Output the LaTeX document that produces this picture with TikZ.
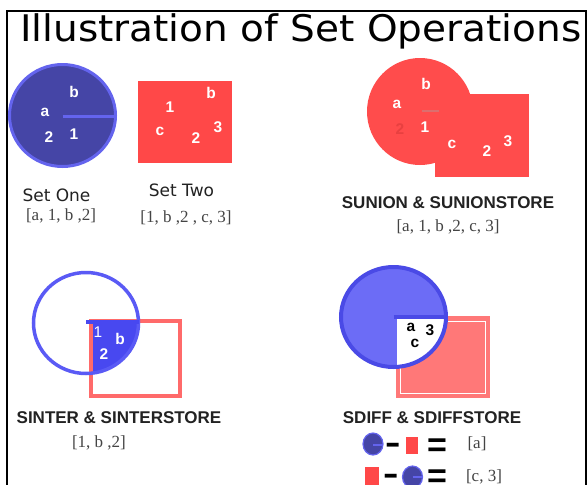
\documentclass[tikz,border=0pt]{standalone}
\usepackage{fontspec}
\usepackage{graphicx}
\setmainfont{Liberation Serif}
\newfontfamily\titlefont{DejaVu Sans}
\newfontfamily\arl{Liberation Sans}
\definecolor{setdark}{HTML}{4545A6}
\definecolor{setrim}{HTML}{6464EE}
\definecolor{setred}{HTML}{FF4848}
\definecolor{unired}{HTML}{FF4C4C}
\definecolor{uniline}{HTML}{DC6E6E}
\definecolor{unifaint}{HTML}{E84040}
\definecolor{intfill}{HTML}{4848F0}
\definecolor{intcirc}{HTML}{5A5AF5}
\definecolor{intrect}{HTML}{FF6A6A}
\definecolor{difcirc}{HTML}{6C6CF6}
\definecolor{difrim}{HTML}{4A4AE6}
\definecolor{difrect}{HTML}{FF7878}
\definecolor{txtdark}{HTML}{222222}
\definecolor{txtgray}{HTML}{444444}
\begin{document}
\begin{tikzpicture}[x=1pt,y=-1pt,
  lbl/.style={text=white,font=\arl\bfseries\fontsize{15.5}{16}\selectfont,inner sep=0},
  dlbl/.style={text=black,font=\arl\bfseries\fontsize{15.5}{16}\selectfont,inner sep=0},
  setcap/.style={font=\titlefont\fontsize{17}{18}\selectfont,text=txtdark,inner sep=0},
  lst/.style={font=\fontsize{17}{18}\selectfont,text=txtgray,inner sep=0},
  opname/.style={font=\arl\bfseries\fontsize{17}{18}\selectfont,text=txtdark,inner sep=0},
  ttl/.style={font=\titlefont\fontsize{39}{44}\selectfont,text=black,inner sep=0,anchor=base west},
  minussym/.style={font=\arl\bfseries\fontsize{24}{26}\selectfont,text=black,inner sep=0,anchor=base},
  eqsym/.style={font=\arl\bfseries\fontsize{34}{36}\selectfont,text=black,inner sep=0,anchor=base}]
\clip (0,0) rectangle (587,485);
\fill[white] (0,0) rectangle (587,485);
% frame
\draw[line width=1.5pt] (7,486) -- (7,11) -- (586,11) -- (586,486);
% title
\node[ttl] (title) at (20,41) {\scalebox{1}[0.94]{Illustration of Set Operations}};

% Set One
\filldraw[fill=setdark,draw=setrim,line width=3pt] (62.5,115.5) ellipse [x radius=53pt,y radius=51pt];
\draw[setrim,line width=3pt] (62.5,116) -- (116,116);
\node[lbl] (s1b) at (74,92) {b};
\node[lbl] (s1a) at (45,112) {a};
\node[lbl] (s12) at (49,137) {2};
\node[lbl] (s11) at (74,134) {1};
\node[setcap] (cap1) at (56.5,195) {Set One};
\node[lst] (l1) at (61,216) {[a, 1, b ,2]};

% Set Two
\fill[setred] (138,81) rectangle (232,163);
\node[lbl] (s2one) at (170,107) {1};
\node[lbl] (s2b) at (211,93) {b};
\node[lbl] (s2c) at (160,131) {c};
\node[lbl] (s2two) at (196,138) {2};
\node[lbl] (s2three) at (218,127) {3};
\node[setcap] (cap2) at (181.5,190) {Set Two};
\node[lst] (l2) at (186,218) {[1, b ,2 , c, 3]};

% Union
\fill[unired] (420,111.5) ellipse [x radius=53pt,y radius=53.5pt];
\fill[unired] (435,94) rectangle (529,177);
\draw[uniline,line width=2.5pt] (422,111) -- (439,111);
\node[lbl] (ub) at (426,84) {b};
\node[lbl] (ua) at (397,104) {a};
\node[lbl,text=unifaint] (u2f) at (400,129) {2};
\node[lbl] (u1) at (425,127) {1};
\node[lbl] (uc) at (452,144) {c};
\node[lbl] (u2) at (487,151) {2};
\node[lbl] (u3) at (508,141) {3};
\node[opname] (capu) at (448,203) {SUNION \& SUNIONSTORE};
\node[lst] (lu) at (448,227) {[a, 1, b ,2, c, 3]};

% Intersection
\begin{scope}
  \clip (90,322) rectangle (182,398);
  \fill[intfill] (86,323) ellipse [x radius=52.5pt,y radius=50.5pt];
\end{scope}
\draw[intrect,line width=4pt] (91,321) rectangle (180,396);
\draw[intcirc,line width=3.5pt] (86,323) ellipse [x radius=52.5pt,y radius=50.5pt];
\draw[intfill,line width=4pt] (86,322) -- (139,322);
\node[lbl,font=\arl\fontsize{15.5}{16}\selectfont] (i1) at (98,332) {1};
\node[lbl] (ib) at (120,339) {b};
\node[lbl] (i2) at (104,354) {2};
\node[opname] (capi) at (119,418) {SINTER \& SINTERSTORE};
\node[lst] (li) at (99,443) {[1, b ,2]};

% Difference
\fill[difrect] (396,316) rectangle (490,398);
\draw[white,line width=1pt] (400,321) rectangle (485,393);
\fill[difcirc] (393.5,317) ellipse [x radius=52.5pt,y radius=50pt];
\begin{scope}
  \clip (397,317) rectangle (490,398);
  \fill[white] (393.5,317) ellipse [x radius=52.5pt,y radius=50pt];
\end{scope}
\draw[difrim,line width=4pt] (393.5,317) ellipse [x radius=52.5pt,y radius=50pt];
\draw[difrim,line width=3.5pt] (393.5,317) -- (446,317);
\node[dlbl] (da) at (411,327) {a};
\node[dlbl] (d3) at (430,330) {3};
\node[dlbl] (dc) at (415,343) {c};
\node[opname] (capd) at (432,418) {SDIFF \& SDIFFSTORE};

% legend row 1
\filldraw[fill=setdark,draw=setrim,line width=1.2pt] (373,444) ellipse [x radius=10pt,y radius=11pt];
\draw[setrim,line width=1.2pt] (373,445) -- (383,445);
\node[minussym] (m1) at (393.5,455.5) {\scalebox{1}[1.6]{–}};
\fill[setred] (406,437) rectangle (418,454);
\node[eqsym] (e1) at (437,456.5) {=};
\node[lst] (r1) at (477,444) {[a]};
% legend row 2
\fill[setred] (365,467) rectangle (379,487);
\node[minussym] (m2) at (391.5,486.5) {\scalebox{1}[1.6]{–}};
\filldraw[fill=setdark,draw=setrim,line width=1.2pt] (412.5,477) ellipse [x radius=10pt,y radius=11pt];
\draw[setrim,line width=1.2pt] (412.5,477) -- (422.5,477);
\node[eqsym] (e2) at (437,487.5) {=};
\node[lst] (r2) at (484,477) {[c, 3]};
\end{tikzpicture}
\end{document}
